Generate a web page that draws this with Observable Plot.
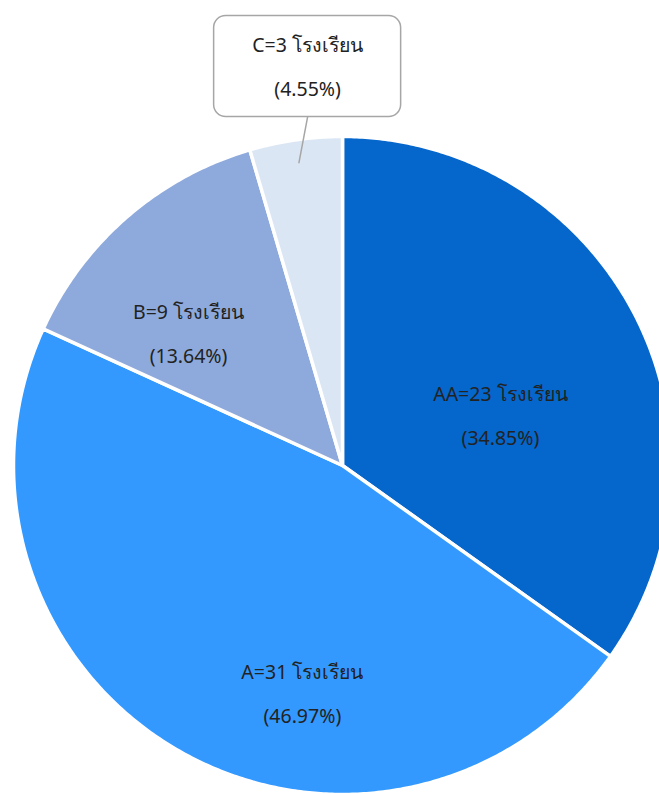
<!DOCTYPE html>
<html>
<head>
<meta charset="utf-8">
<script src="https://cdn.jsdelivr.net/npm/d3@7"></script>
<script src="https://cdn.jsdelivr.net/npm/@observablehq/plot@0.6"></script>
<style>
  html, body { margin: 0; padding: 0; background: #fff; }
  #chart { width: 659px; height: 794px; overflow: hidden; }
</style>
</head>
<body>
<div id="chart"></div>
<script>
// ---- data ----
const grades = ["AA", "A", "B", "C"];
const schools = [23, 31, 9, 3];
const percents = ["34.85%", "46.97%", "13.64%", "4.55%"];
const unit = "โรงเรียน";
const colors = ["#0566cc", "#3399ff", "#8eaadc", "#dbe6f4"];

// ---- layout (unit circle coordinates, radius = 1) ----
const labelAnchors = [[0.48, 0.172], [-0.122, -0.673], [-0.468, 0.421], [-0.106, 1.233]];
const calloutIndex = 3;
const W = 659, H = 794, cx = 342, cy = 465, R = 329;

const total = d3.sum(schools);
const pie = d3.pie().sort(null).value(d => d)(schools);

// polygon points of each slice (angle measured clockwise from 12 o'clock)
const slicePts = [];
pie.forEach((p, i) => {
  slicePts.push({i, x: 0, y: 0});
  const n = Math.max(4, Math.ceil((p.endAngle - p.startAngle) / (Math.PI / 360)));
  for (let k = 0; k <= n; k++) {
    const a = p.startAngle + (p.endAngle - p.startAngle) * k / n;
    slicePts.push({i, x: Math.sin(a), y: Math.cos(a)});
  }
});

const labels = grades.map((g, i) => ({
  i,
  text: `${g}=${schools[i]} ${unit}\n(${percents[i]})`,
  x: labelAnchors[i][0],
  y: labelAnchors[i][1]
}));

// callout box for the small slice
const cl = labels[calloutIndex];
const boxCenterY = 1.213;
const boxW = 187 / R, boxH = 101 / R;
const box = [{x1: cl.x - boxW / 2, x2: cl.x + boxW / 2, y1: boxCenterY - boxH / 2, y2: boxCenterY + boxH / 2}];
const cp = pie[calloutIndex];
const midA = (cp.startAngle + cp.endAngle) / 2;
const leader = [
  {x: cl.x, y: boxCenterY - boxH / 2},
  {x: 0.93 * Math.sin(midA), y: 0.93 * Math.cos(midA)}
];

const font = "'Noto Sans', 'Open Sans', sans-serif";

const chart = Plot.plot({
  width: W,
  height: H,
  margin: 0,
  x: {domain: [-cx / R, (W - cx) / R], axis: null},
  y: {domain: [-(H - cy) / R, cy / R], axis: null},
  color: {domain: d3.range(grades.length), range: colors},
  style: {fontFamily: font, background: "#fff"},
  marks: [
    Plot.line(slicePts, {
      x: "x", y: "y", z: "i",
      fill: d => d.i,
      stroke: "#ffffff",
      strokeWidth: 3.5,
      strokeLinejoin: "round",
      curve: "linear-closed"
    }),
    Plot.line(leader, {x: "x", y: "y", stroke: "#a6a6a6", strokeWidth: 1.5}),
    Plot.rect(box, {
      x1: "x1", x2: "x2", y1: "y1", y2: "y2",
      fill: "#ffffff", stroke: "#a6a6a6", strokeWidth: 1.5, rx: 12
    }),
    Plot.text(labels, {
      x: "x", y: "y", text: "text",
      fontSize: 19.5, lineHeight: 2.25,
      fill: "#222222",
      textAnchor: "middle"
    })
  ]
});

document.getElementById("chart").appendChild(chart);
</script>
</body>
</html>
